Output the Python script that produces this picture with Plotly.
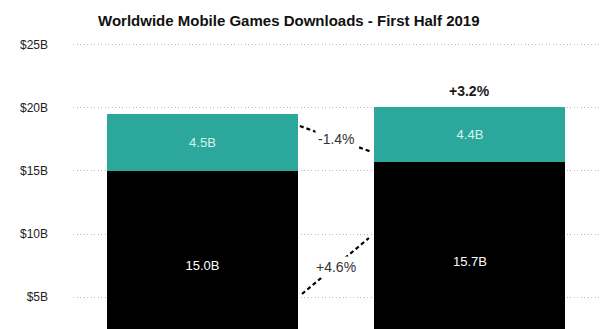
import plotly.graph_objects as go

# Half-year periods and download volumes (billions) per store
periods = ["H1 2018", "H1 2019"]
google_play = [15.0, 15.7]
app_store = [4.5, 4.4]
totals = [19.5, 20.1]

# Period-over-period change labels
app_store_change = "-1.4%"
google_play_change = "+4.6%"
total_change = "+3.2%"

# Axis ticks
tick_vals = [5, 10, 15, 20, 25]
tick_text = ["$5B", "$10B", "$15B", "$20B", "$25B"]

TEAL = "#2ba89b"
FONT = "Liberation Sans, Arial, Helvetica, sans-serif"

fig = go.Figure()
fig.add_trace(go.Bar(
    x=periods, y=google_play, name="Google Play",
    marker=dict(color="#000000", line=dict(width=0)),
    texttemplate="%{y:.1f}B", textposition="inside", insidetextanchor="middle",
    textfont=dict(color="#ffffff", size=13, family=FONT),
))
fig.add_trace(go.Bar(
    x=periods, y=app_store, name="App Store",
    marker=dict(color=TEAL, line=dict(width=0)),
    texttemplate="%{y:.1f}B", textposition="inside", insidetextanchor="middle",
    textfont=dict(color="#d9f2ef", size=13, family=FONT),
))

# Dashed connectors between the two bars
dash_style = dict(color="#000000", width=2.2, dash="4px,3px")
fig.add_shape(type="line", xref="x", yref="y", x0=0.364, y0=18.57, x1=0.634, y1=16.5,
              line=dash_style)
fig.add_shape(type="line", xref="x", yref="y", x0=0.372, y0=5.24, x1=0.622, y1=9.68,
              line=dash_style)

# Change labels sitting on the connectors
fig.add_annotation(x=0.5, y=17.5, xref="x", yref="y", text=app_store_change,
                   showarrow=False, bgcolor="#ffffff", borderpad=2,
                   font=dict(size=14, color="#333333", family=FONT))
fig.add_annotation(x=0.5, y=7.4, xref="x", yref="y", text=google_play_change,
                   showarrow=False, bgcolor="#ffffff", borderpad=2,
                   font=dict(size=14, color="#333333", family=FONT))
fig.add_annotation(x=periods[1], y=totals[1], xref="x", yref="y",
                   text="<b>" + total_change + "</b>", showarrow=False,
                   yanchor="bottom", yshift=6,
                   font=dict(size=14, color="#1a1a1a", family=FONT))

fig.update_layout(
    width=608, height=329,
    margin=dict(l=73, r=8, t=30, b=0),
    paper_bgcolor="#ffffff", plot_bgcolor="#ffffff",
    barmode="stack", bargap=0.286, showlegend=False,
    title=dict(text="<b>Worldwide Mobile Games Downloads - First Half 2019</b>",
               x=0.475, xref="container", xanchor="center",
               y=0.936, yref="container", yanchor="middle",
               font=dict(size=15, color="#111111", family=FONT)),
    xaxis=dict(range=[-0.484, 1.486], showticklabels=False, showgrid=False,
               zeroline=False, showline=False),
    yaxis=dict(range=[2.46, 26.19], tickvals=tick_vals, ticktext=tick_text,
               showgrid=True, gridcolor="#b8b8b8", griddash="1px,2.5px", gridwidth=1,
               zeroline=False, showline=False, ticks="", ticklabelstandoff=24,
               tickfont=dict(size=12, color="#222222", family=FONT)),
)

fig.write_html("out.html")
